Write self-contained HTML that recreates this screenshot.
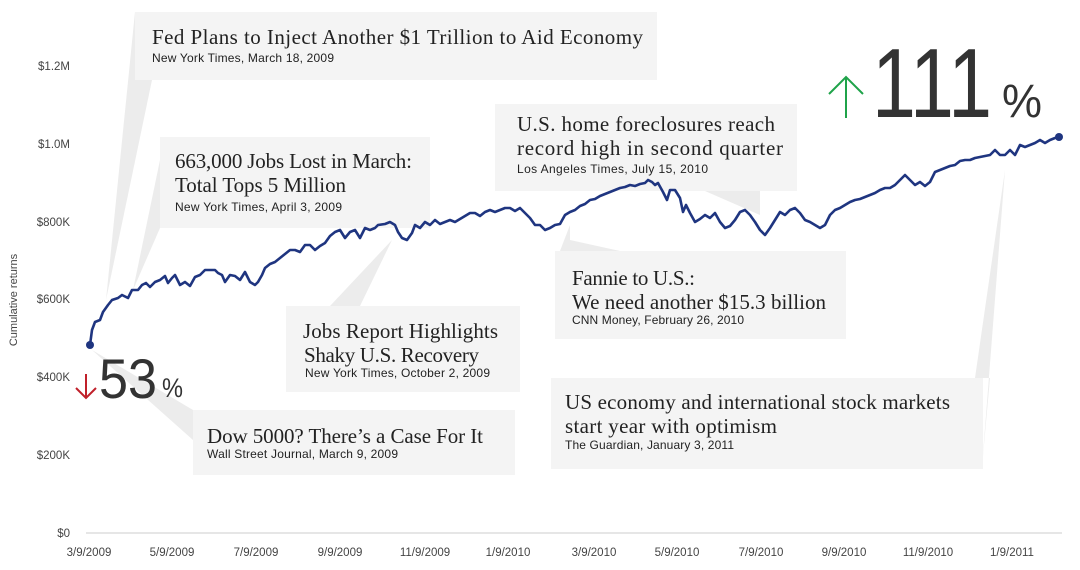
<!DOCTYPE html>
<html><head><meta charset="utf-8"><style>
html,body{margin:0;padding:0;background:#fff;}
svg{display:block}
.s{font-family:"Liberation Serif",serif;fill:#222;font-size:21px}
.src{font-family:"Liberation Sans",sans-serif;fill:#222;font-size:12px}
.ax{font-family:"Liberation Sans",sans-serif;fill:#444;font-size:11.5px}
.box{fill:#f4f4f4}
.tail{fill:#ececec}
</style></head><body>
<svg width="1080" height="570" viewBox="0 0 1080 570">
<defs>
<linearGradient id="g" x1="0" y1="0" x2="0" y2="1"><stop offset="0" stop-color="#ececec"/><stop offset="1" stop-color="#f6f6f6" stop-opacity="0.3"/></linearGradient>
</defs>
<polygon class="tail" points="135,12 152,80 106,300" fill="url(#g)"/>
<polygon class="tail" points="160,160 160,228 133,290"/>
<polygon class="tail" points="760,191 705,191 760,215" />
<polygon class="tail" points="570,240 620,251 560,251 570,225"/>
<polygon class="tail" points="330,306 360,306 392,240"/>
<polygon class="tail" points="193,410 193,440 92,350"/>
<polygon class="tail" points="990,378 982,467 1005,170 975,378"/>
<rect class="box" x="135" y="12" width="522" height="68"/>
<rect class="box" x="160" y="137" width="270" height="91"/>
<rect class="box" x="495" y="104" width="302" height="87"/>
<rect class="box" x="555" y="251" width="291" height="88"/>
<rect class="box" x="286" y="306" width="234" height="86"/>
<rect class="box" x="193" y="410" width="322" height="65"/>
<rect class="box" x="551" y="378" width="432" height="91"/>
<text class="s" x="152" y="44" textLength="491">Fed Plans to Inject Another $1 Trillion to Aid Economy</text>
<text class="src" x="152" y="62" textLength="182">New York Times, March 18, 2009</text>
<text class="s" x="175" y="168" textLength="237">663,000 Jobs Lost in March:</text>
<text class="s" x="175" y="192" textLength="171">Total Tops 5 Million</text>
<text class="src" x="175" y="211" textLength="167">New York Times, April 3, 2009</text>
<text class="s" x="517" y="131" textLength="258">U.S. home foreclosures reach</text>
<text class="s" x="517" y="155" textLength="266">record high in second quarter</text>
<text class="src" x="517" y="173" textLength="191">Los Angeles Times, July 15, 2010</text>
<text class="s" x="572" y="285" textLength="123">Fannie to U.S.:</text>
<text class="s" x="572" y="309" textLength="254">We need another $15.3 billion</text>
<text class="src" x="572" y="324" textLength="172">CNN Money, February 26, 2010</text>
<text class="s" x="303" y="338" textLength="195">Jobs Report Highlights</text>
<text class="s" x="304" y="362" textLength="175">Shaky U.S. Recovery</text>
<text class="src" x="305" y="377" textLength="185">New York Times, October 2, 2009</text>
<text class="s" x="207" y="443" textLength="276">Dow 5000? There’s a Case For It</text>
<text class="src" x="207" y="458" textLength="191">Wall Street Journal, March 9, 2009</text>
<text class="s" x="565" y="409" textLength="385">US economy and international stock markets</text>
<text class="s" x="565" y="433" textLength="212">start year with optimism</text>
<text class="src" x="565" y="449" textLength="169">The Guardian, January 3, 2011</text>
<line x1="86" y1="533" x2="1062" y2="533" stroke="#ccc" stroke-width="1"/>
<g class="ax" text-anchor="end">
<text x="70" y="537">$0</text><text x="70" y="459">$200K</text><text x="70" y="381">$400K</text>
<text x="70" y="303">$600K</text><text x="70" y="226">$800K</text><text x="70" y="148">$1.0M</text><text x="70" y="70">$1.2M</text>
</g>
<g class="ax" text-anchor="middle">
<text x="89" y="556">3/9/2009</text><text x="172" y="556">5/9/2009</text><text x="256" y="556">7/9/2009</text>
<text x="340" y="556">9/9/2009</text><text x="425" y="556">11/9/2009</text><text x="508" y="556">1/9/2010</text>
<text x="594" y="556">3/9/2010</text><text x="677" y="556">5/9/2010</text><text x="761" y="556">7/9/2010</text>
<text x="844" y="556">9/9/2010</text><text x="928" y="556">11/9/2010</text><text x="1012" y="556">1/9/2011</text>
</g>
<text class="ax" transform="translate(17,300) rotate(-90)" text-anchor="middle" style="font-size:11px">Cumulative returns</text>
<polyline fill="none" stroke="#1f3580" stroke-width="2.6" stroke-linejoin="round" points="90,345 92,330 95,322 100,320 103,312 108,305 112,300 118,298 122,295 128,298 132,290 138,290 142,285 146,283 150,287 155,282 160,280 165,276 168,283 172,278 175,275 180,285 185,282 190,286 195,277 200,275 205,270 210,270 215,270 218,273 222,275 225,282 230,275 235,276 240,280 245,272 250,282 255,285 258,282 262,275 265,268 270,264 275,262 280,258 285,254 290,250 295,250 300,252 305,245 310,245 315,250 320,246 325,243 330,236 335,232 340,230 345,238 350,232 355,230 360,238 365,228 370,230 375,228 378,225 385,224 390,222 395,225 398,232 402,238 407,240 412,233 415,225 420,228 425,222 430,225 435,220 440,224 445,222 450,220 455,222 460,219 465,216 470,213 475,213 480,216 485,212 490,210 495,212 500,210 505,208 510,208 515,211 520,208 525,213 530,218 535,225 540,225 545,230 550,228 555,225 560,224 565,215 570,212 575,210 580,206 585,204 590,200 595,199 600,196 605,194 610,192 615,190 620,188 625,187 630,185 635,186 640,184 645,183 648,180 652,182 655,185 658,183 663,192 667,200 670,190 675,190 680,198 683,212 686,205 690,213 695,222 700,219 705,215 710,218 715,213 720,222 725,228 730,226 735,220 740,212 745,210 750,215 755,222 760,230 765,235 770,228 775,220 780,212 785,215 790,210 795,208 800,213 805,220 810,222 815,225 820,228 825,225 830,215 835,210 840,208 845,205 850,202 855,200 860,199 865,197 870,195 875,193 880,190 885,188 890,188 895,185 900,180 905,175 910,180 915,185 920,182 925,186 930,182 935,172 940,170 945,168 950,166 955,165 960,161 965,160 970,160 975,158 980,157 985,156 990,155 995,150 1000,155 1005,155 1010,150 1015,155 1020,145 1025,147 1030,145 1035,143 1040,140 1045,143 1050,140 1055,138 1059,137"/>
<circle cx="90" cy="345" r="4" fill="#1f3580"/>
<circle cx="1059" cy="137" r="4" fill="#1f3580"/>
<g stroke="#1fa34a" stroke-width="2" fill="none"><line x1="846" y1="118" x2="846" y2="77"/><polyline points="829,94 846,77 863,94"/></g>
<text x="872" y="117" textLength="120" lengthAdjust="spacingAndGlyphs" style="font-family:'Liberation Sans',sans-serif;font-size:98px;fill:#333">111</text>
<text x="1002" y="117" textLength="40" lengthAdjust="spacingAndGlyphs" style="font-family:'Liberation Sans',sans-serif;font-size:47px;fill:#333">%</text>
<g stroke="#c0202a" stroke-width="2" fill="none"><line x1="86" y1="374" x2="86" y2="398"/><polyline points="76,388 86,398 96,388"/></g>
<text x="99" y="398" textLength="58" lengthAdjust="spacingAndGlyphs" style="font-family:'Liberation Sans',sans-serif;font-size:56px;fill:#333">53</text>
<text x="162" y="397" textLength="21" lengthAdjust="spacingAndGlyphs" style="font-family:'Liberation Sans',sans-serif;font-size:27px;fill:#333">%</text>
</svg>
</body></html>
